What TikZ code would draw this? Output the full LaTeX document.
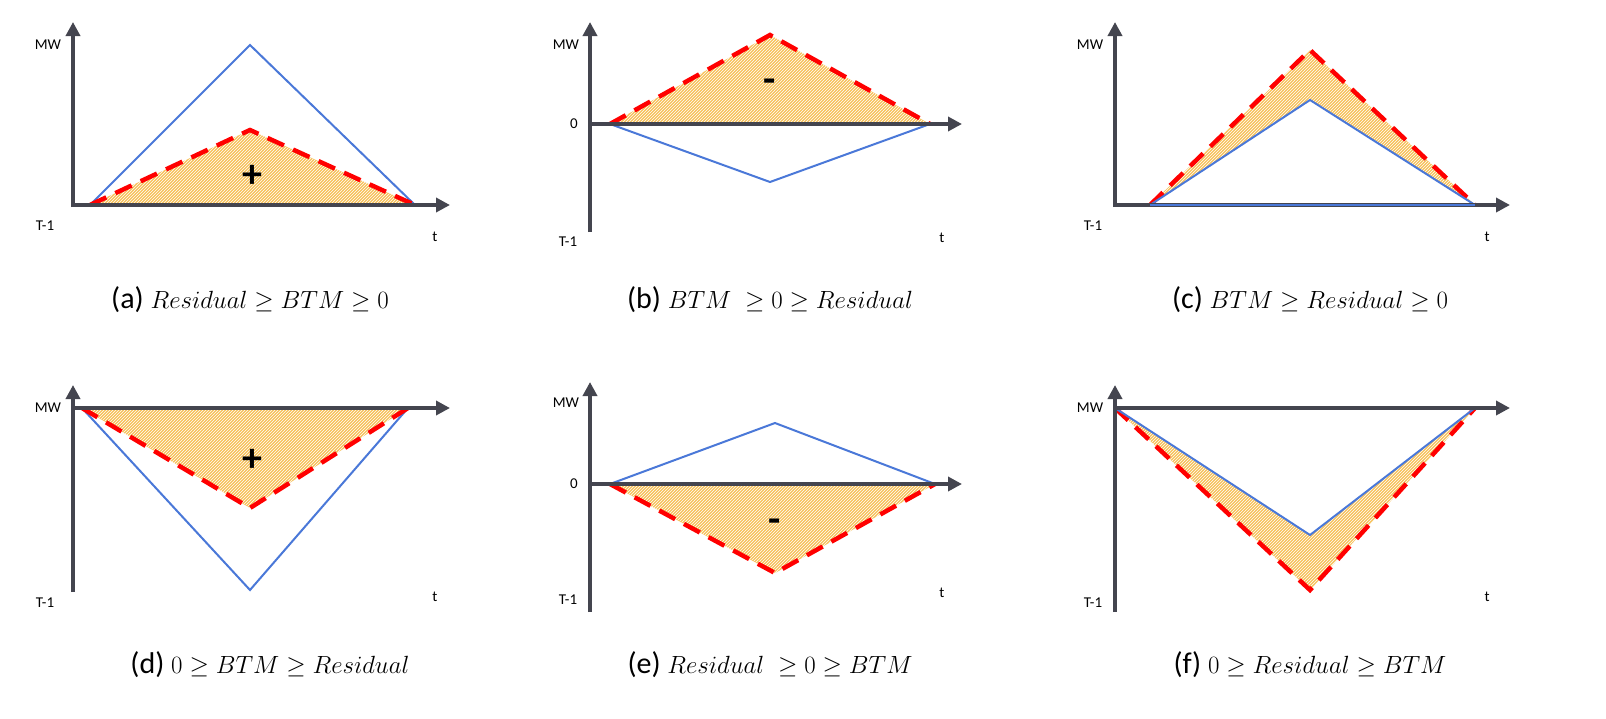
\documentclass[tikz,border=0pt]{standalone}
\usepackage{fontspec}
\setmainfont{Carlito}
\usetikzlibrary{patterns,arrows.meta}
\definecolor{ax}{HTML}{44454F}
\definecolor{bl}{HTML}{4A78D8}
\definecolor{hf}{HTML}{F7C15A}
\begin{document}
\begin{tikzpicture}[x=1pt,y=-1pt,
 axis/.style={ax,line width=4.5pt,-{Triangle[length=14pt,width=14pt]}},
 bln/.style={draw=bl,line width=2pt},
 rdn/.style={draw=red,line width=4.5pt,dash pattern=on 18pt off 10pt},
 hat/.style={fill=hf,postaction={pattern=north east lines,pattern color=white}},
 sm/.style={font=\fontsize{15}{16}\selectfont},
 captxt/.style={font=\fontsize{30}{34}\selectfont},
 sg/.style={font=\fontsize{40}{40}\selectfont\bfseries}]
\useasboundingbox (0,0) rectangle (1606,718);
% (a)
\coordinate (a0) at (90,205); \coordinate (a1) at (415,205);
\coordinate (ab) at (250,45); \coordinate (ar) at (250,130);
\fill[hat] (a0)--(ar)--(a1)--cycle;
\draw[bln] (a0)--(ab)--(a1);
\draw[rdn] (a0)--(ar)--(a1);
\coordinate (ay0) at (73,207); \coordinate (ay1) at (73,22);
\coordinate (ax0) at (71,205); \coordinate (ax1) at (450,205);
\draw[axis] (ay0)--(ay1); \draw[axis] (ax0)--(ax1);
\node[sm] (amw) at (48,45) {MW}; \node[sm] (at1) at (45,226) {T-1}; \node[sm] (at) at (435,237) {t};
\node[sg] (ap) at (252,176) {+};
\node[captxt] (ac) at (250,300) {(a) $Residual\geq BTM\geq 0$};
% (b)
\coordinate (b0) at (610,124); \coordinate (b1) at (930,124);
\coordinate (bb) at (770,182); \coordinate (br) at (770,35);
\fill[hat] (b0)--(br)--(b1)--cycle;
\draw[bln] (b0)--(bb)--(b1);
\draw[rdn] (b0)--(br)--(b1);
\coordinate (by0) at (590,232); \coordinate (by1) at (590,22);
\coordinate (bx0) at (588,124); \coordinate (bx1) at (962,124);
\draw[axis] (by0)--(by1); \draw[axis] (bx0)--(bx1);
\node[sm] (bmw) at (566,45) {MW}; \node[sm] (bz) at (574,124) {0};
\node[sm] (bt1) at (568,242) {T-1}; \node[sm] (bt) at (942,238) {t};
\node[sg] (bm) at (770,86) {-};
\node[captxt] (bc) at (770,300) {(b) $BTM~\geq 0\geq Residual$};
% (c)
\coordinate (c0) at (1150,205); \coordinate (c1) at (1475,205);
\coordinate (cb) at (1310,100); \coordinate (cr) at (1310,50);
\fill[hat] (c0)--(cr)--(c1)--(cb)--cycle;
\draw[rdn] (c0)--(cr)--(c1);
\draw[bln] (c0)--(cb)--(c1);
\coordinate (cy0) at (1115,207); \coordinate (cy1) at (1115,22);
\coordinate (cx0) at (1113,205); \coordinate (cx1) at (1510,205);
\draw[axis] (cy0)--(cy1); \draw[axis] (cx0)--(cx1);
\draw[bln] (c0)--(c1);
\node[sm] (cmw) at (1090,45) {MW}; \node[sm] (ct1) at (1093,226) {T-1}; \node[sm] (ct) at (1487,237) {t};
\node[captxt] (cc) at (1310,300) {(c) $BTM\geq Residual\geq 0$};
% (d)
\coordinate (d0) at (82,408); \coordinate (d1) at (408,408);
\coordinate (db) at (250,590); \coordinate (dr) at (250,508);
\fill[hat] (d0)--(dr)--(d1)--cycle;
\draw[bln] (d0)--(db)--(d1);
\draw[rdn] (d0)--(dr)--(d1);
\coordinate (dy0) at (73,592); \coordinate (dy1) at (73,385);
\coordinate (dx0) at (71,408); \coordinate (dx1) at (450,408);
\draw[axis] (dy0)--(dy1); \draw[axis] (dx0)--(dx1);
\node[sm] (dmw) at (48,408) {MW}; \node[sm] (dt1) at (45,603) {T-1}; \node[sm] (dt) at (435,597) {t};
\node[sg] (dp) at (252,460) {+};
\node[captxt] (dc) at (270,665) {(d) $0\geq BTM\geq Residual$};
% (e)
\coordinate (e0) at (610,484); \coordinate (e1) at (935,484);
\coordinate (eb) at (775,423); \coordinate (er) at (775,573);
\fill[hat] (e0)--(er)--(e1)--cycle;
\draw[bln] (e0)--(eb)--(e1);
\draw[rdn] (e0)--(er)--(e1);
\coordinate (ey0) at (590,612); \coordinate (ey1) at (590,382);
\coordinate (ex0) at (588,484); \coordinate (ex1) at (962,484);
\draw[axis] (ey0)--(ey1); \draw[axis] (ex0)--(ex1);
\node[sm] (emw) at (566,403) {MW}; \node[sm] (ez) at (574,484) {0};
\node[sm] (et1) at (568,600) {T-1}; \node[sm] (et) at (942,593) {t};
\node[sg] (em) at (775,526) {-};
\node[captxt] (ec) at (770,665) {(e) $Residual~\geq 0\geq BTM$};
% (f)
\coordinate (f0) at (1115,408); \coordinate (f1) at (1475,408);
\coordinate (fb) at (1310,535); \coordinate (fr) at (1310,590);
\fill[hat] (f0)--(fr)--(f1)--(fb)--cycle;
\draw[rdn] (f0)--(fr)--(f1);
\draw[bln] (f0)--(fb)--(f1);
\coordinate (fy0) at (1115,612); \coordinate (fy1) at (1115,385);
\coordinate (fx0) at (1113,408); \coordinate (fx1) at (1510,408);
\draw[axis] (fy0)--(fy1); \draw[axis] (fx0)--(fx1);
\node[sm] (fmw) at (1090,408) {MW}; \node[sm] (ft1) at (1093,603) {T-1}; \node[sm] (ft) at (1487,597) {t};
\node[captxt] (fc) at (1310,665) {(f) $0\geq Residual\geq BTM$};
\end{tikzpicture}
\end{document}
